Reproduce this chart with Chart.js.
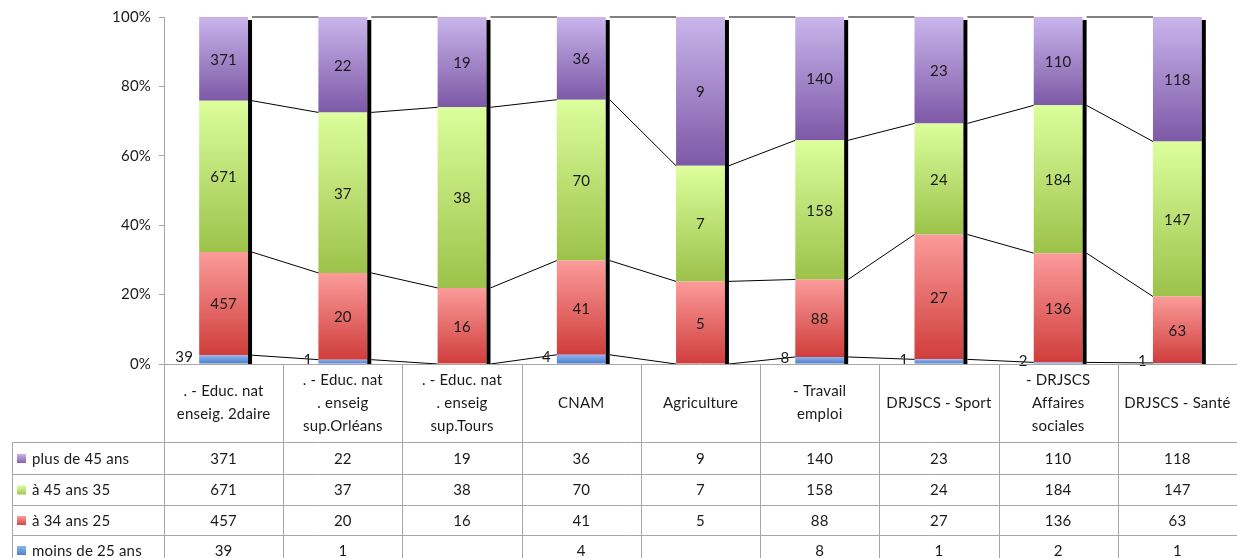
<!DOCTYPE html>
<html>
<head>
<meta charset="utf-8">
<script src="https://cdn.jsdelivr.net/npm/chart.js@4"></script>
<style>
  html, body { margin: 0; padding: 0; background: #fff; }
  #wrap { width: 1237px; height: 558px; position: relative; }
</style>
</head>
<body>
<div id="wrap"><canvas id="chart"></canvas></div>
<script>
const categories = [
  [". - Educ. nat", "enseig. 2daire"],
  [". - Educ. nat", ". enseig", "sup.Orléans"],
  [". - Educ. nat", ". enseig", "sup.Tours"],
  ["CNAM"],
  ["Agriculture"],
  ["- Travail", "emploi"],
  ["DRJSCS - Sport"],
  ["- DRJSCS", "Affaires", "sociales"],
  ["DRJSCS - Santé"],
];
const plus45 = [371, 22, 19, 36, 9, 140, 23, 110, 118];
const de35a45 = [671, 37, 38, 70, 7, 158, 24, 184, 147];
const de25a34 = [457, 20, 16, 41, 5, 88, 27, 136, 63];
const moins25 = [39, 1, null, 4, null, 8, 1, 2, 1];
const yTicks = [0, 20, 40, 60, 80, 100];

// bottom to top
const series = [
  { name: "moins de 25 ans", values: moins25, colors: ["#8fb4ee", "#4a7bc8"] },
  { name: "à 34 ans 25", values: de25a34, colors: ["#fb9c9a", "#cf3d3b"] },
  { name: "à 45 ans 35", values: de35a45, colors: ["#dcfe9c", "#9cc24a"] },
  { name: "plus de 45 ans", values: plus45, colors: ["#c9b5ec", "#7d58a6"] },
];

const FONT = "Lato, 'Open Sans', sans-serif";
const FSIZE = 15;
const TXT = "#1a1a1a";
const GRID = "#a6a6a6";

const totals = categories.map((_, i) => series.reduce((s, d) => s + (d.values[i] || 0), 0));
const cumStart = [], cumEnd = [];
series.forEach((d, k) => {
  cumStart[k] = categories.map((_, i) => k === 0 ? 0 : cumEnd[k - 1][i]);
  cumEnd[k] = categories.map((_, i) => cumStart[k][i] + (d.values[i] || 0) / totals[i] * 100);
});

function gradFill(k) {
  const cols = series[k].colors;
  return c => {
    const chart = c.chart;
    if (!chart.chartArea || c.type !== "data") return cols[1];
    const y = chart.scales.y;
    const top = y.getPixelForValue(cumEnd[k][c.dataIndex]);
    const bot = y.getPixelForValue(cumStart[k][c.dataIndex]);
    if (!(bot - top > 0.5)) return cols[1];
    const g = chart.ctx.createLinearGradient(0, top, 0, bot);
    g.addColorStop(0, cols[0]);
    g.addColorStop(1, cols[1]);
    return g;
  };
}

const extras = {
  id: "extras",
  beforeDraw(chart) {
    chart.ctx.letterSpacing = "0.2px";
  },
  afterDatasetsDraw(chart) {
    const { ctx, scales: { x, y } } = chart;
    const bars = chart.getDatasetMeta(series.length - 1).data;
    const y0 = y.getPixelForValue(0), y100 = y.getPixelForValue(100);
    ctx.save();
    // black shadow right of each column
    ctx.fillStyle = "#000";
    bars.forEach(el => {
      const right = el.x + el.width / 2;
      ctx.fillRect(right, y100 + 3, 4, y0 - y100 - 3);
    });
    // series lines between columns
    ctx.strokeStyle = "#000";
    ctx.lineWidth = 1;
    series.forEach((d, k) => {
      ctx.beginPath();
      for (let i = 0; i < bars.length - 1; i++) {
        const a = bars[i], b = bars[i + 1];
        ctx.moveTo(a.x + a.width / 2 + 4, y.getPixelForValue(cumEnd[k][i]));
        ctx.lineTo(b.x - b.width / 2, y.getPixelForValue(cumEnd[k][i + 1]));
      }
      ctx.stroke();
    });
    // data labels
    ctx.font = FSIZE + "px " + FONT;
    ctx.fillStyle = TXT;
    ctx.textBaseline = "middle";
    series.forEach((d, k) => {
      d.values.forEach((v, i) => {
        if (v == null) return;
        const el = bars[i];
        const top = y.getPixelForValue(cumEnd[k][i]);
        const bot = y.getPixelForValue(cumStart[k][i]);
        if (k === 0) {
          ctx.textAlign = "right";
          ctx.fillText(String(v), el.x - el.width / 2 - 6, (top + bot) / 2 - 2);
        } else {
          ctx.textAlign = "center";
          ctx.fillText(String(v), el.x, (top + bot) / 2 + 1);
        }
      });
    });
    ctx.restore();
  },
  afterDraw(chart) {
    const { ctx, scales: { x, y } } = chart;
    const yb = y.getPixelForValue(0);
    const step = x.getPixelForValue(1) - x.getPixelForValue(0);
    const left = x.getPixelForValue(0) - step / 2;
    const right = left + step * categories.length;
    const bottom = chart.height;
    const tableLeft = 12;
    const headerBottom = 442;
    const rowLines = [442, 474, 505, 535];
    const rowH = [32, 31, 30, 30];
    ctx.save();
    ctx.strokeStyle = GRID;
    ctx.lineWidth = 1;
    ctx.beginPath();
    ctx.moveTo(left, yb + 0.5); ctx.lineTo(right, yb + 0.5);
    for (let k = 0; k <= categories.length; k++) {
      const xx = Math.round(left + k * step) + 0.5;
      ctx.moveTo(xx, yb); ctx.lineTo(xx, bottom);
    }
    ctx.moveTo(tableLeft + 0.5, headerBottom); ctx.lineTo(tableLeft + 0.5, bottom);
    rowLines.forEach(r => { ctx.moveTo(tableLeft, r + 0.5); ctx.lineTo(right, r + 0.5); });
    ctx.stroke();

    ctx.font = FSIZE + "px " + FONT;
    ctx.fillStyle = TXT;
    ctx.textBaseline = "middle";
    ctx.textAlign = "center";
    // category header
    const midH = (yb + headerBottom) / 2;
    categories.forEach((lines, i) => {
      const cx = x.getPixelForValue(i);
      const lh = 23;
      lines.forEach((t, j) => {
        ctx.fillText(t, cx, midH + (j - (lines.length - 1) / 2) * lh);
      });
    });
    // rows: top series first
    const rows = series.slice().reverse();
    rows.forEach((d, r) => {
      const cy = rowLines[r] + rowH[r] / 2 + 1;
      // legend key
      const cols = d.colors;
      const g = ctx.createLinearGradient(0, cy - 5, 0, cy + 5);
      g.addColorStop(0, cols[0]);
      g.addColorStop(1, cols[1]);
      ctx.fillStyle = g;
      ctx.fillRect(17, cy - 5, 9, 9);
      ctx.fillStyle = TXT;
      ctx.textAlign = "left";
      ctx.fillText(d.name, 32, cy);
      ctx.textAlign = "center";
      d.values.forEach((v, i) => {
        if (v == null) return;
        ctx.fillText(String(v), x.getPixelForValue(i), cy);
      });
    });
    ctx.restore();
  }
};

new Chart(document.getElementById("chart"), {
  type: "bar",
  data: {
    labels: categories.map(c => c.join(" ")),
    datasets: series.map((d, k) => ({
      label: d.name,
      data: categories.map((_, i) => d.values[i] == null ? null : cumEnd[k][i] - cumStart[k][i]),
      backgroundColor: gradFill(k),
      borderWidth: 0,
      barPercentage: 0.41,
      categoryPercentage: 1,
    })),
  },
  options: {
    responsive: true,
    maintainAspectRatio: false,
    animation: false,
    layout: { padding: { left: 0, right: 0, top: 17, bottom: 194 } },
    plugins: { legend: { display: false }, tooltip: { enabled: false } },
    scales: {
      x: { stacked: true, display: false, offset: true },
      y: {
        stacked: true,
        min: 0,
        max: 100,
        afterBuildTicks: s => { s.ticks = yTicks.map(v => ({ value: v })); },
        afterFit: s => { s.width = 164; },
        border: { color: GRID, width: 1 },
        grid: { drawOnChartArea: false, drawTicks: true, tickLength: 5, color: GRID },
        ticks: { padding: 8, color: TXT, font: { family: FONT, size: FSIZE }, callback: v => v + "%" },
      },
    },
  },
  plugins: [extras],
});
</script>
</body>
</html>
